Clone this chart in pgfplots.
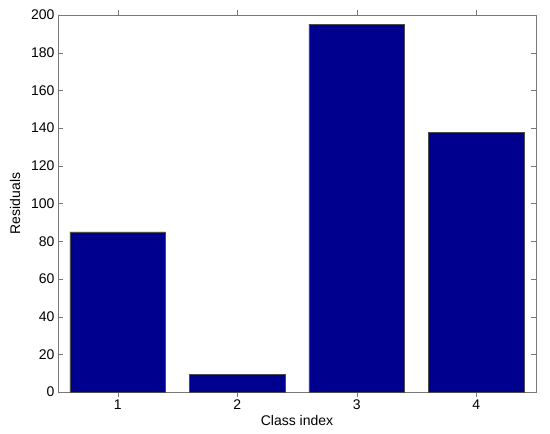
\documentclass[border=0pt]{standalone}
\usepackage{fontspec}
\setmainfont{Liberation Sans}
\usepackage{pgfplots}
\pgfplotsset{compat=1.18}
\definecolor{barblue}{RGB}{0,0,143}
\definecolor{axgray}{RGB}{120,120,120}
\newcommand{\chartfont}{\fontsize{14}{16}\selectfont}

\begin{document}
\begin{tikzpicture}
\begin{axis}[
    name=ax,
    scale only axis,
    width=478pt,
    height=377pt,
    xmin=0.5, xmax=4.5,
    ymin=0, ymax=200,
    xtick={1,2,3,4},
    ytick={0,20,...,200},
    tick align=inside,
    major tick length=5pt,
    axis line style={axgray},
    tick style={axgray},
    tick label style={font=\chartfont},
    xticklabel style={yshift=1pt},
    label style={font=\chartfont},
    /pgf/number format/assume math mode=true,
    xlabel={Class index},
    ylabel={Residuals},
    xlabel style={yshift=1pt},
    ylabel style={yshift=4pt},
    ybar,
    bar width=0.8,
    bar shift=0pt,
]
\addplot[fill=barblue, draw=black!70, line width=0.4pt]
    coordinates {(1,85) (2,9.4) (3,195.2) (4,137.8)};
\end{axis}
\path (ax.south west) ++(-58pt,-41pt) coordinate (bb1);
\path (ax.north east) ++(14pt,15pt) coordinate (bb2);
\useasboundingbox (bb1) rectangle (bb2);
\end{tikzpicture}
\end{document}
